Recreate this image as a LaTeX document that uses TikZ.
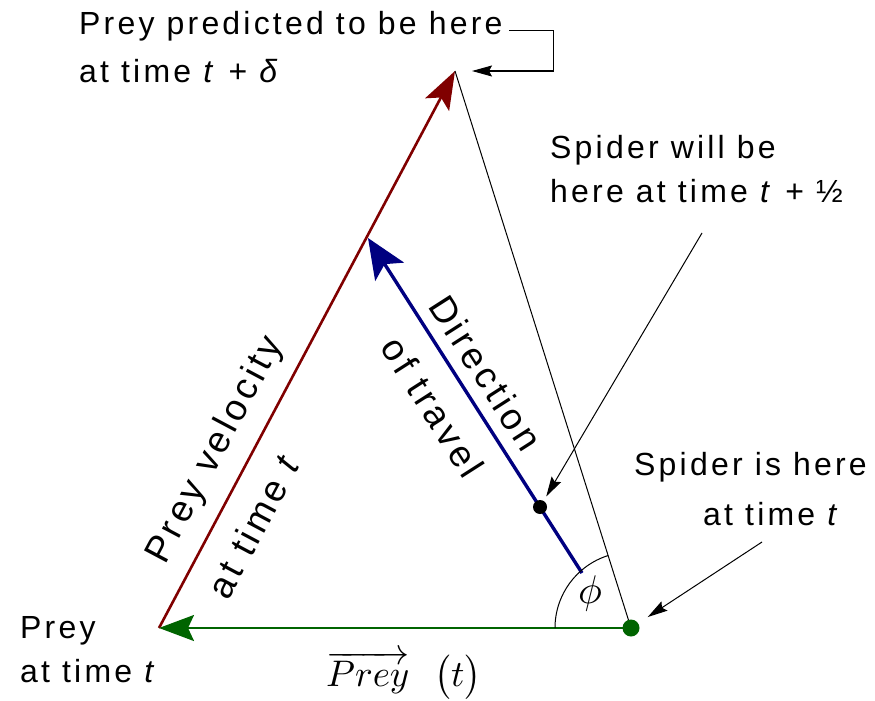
\documentclass[tikz,border=0pt]{standalone}
\usepackage{fontspec}
\setmainfont{Liberation Sans}
\newfontfamily\lab[LetterSpace=10]{Liberation Sans}
\usetikzlibrary{arrows.meta}
\definecolor{preyred}{RGB}{128,0,0}
\definecolor{spgreen}{RGB}{0,100,0}
\definecolor{dirblue}{RGB}{0,0,128}
\begin{document}
\begin{tikzpicture}[x=1pt,y=-1pt,
  txt/.style={font=\lab\fontsize{32}{38}\selectfont, inner sep=0pt, anchor=base west},
  rtxt/.style={font=\lab\fontsize{37}{44}\selectfont, inner sep=0pt},
  thin line/.style={line width=1pt, black},
  ann/.style={line width=1pt, black, -{Stealth[length=20pt,width=11pt,inset=3pt]}},
  spdot/.style={circle, fill=spgreen, inner sep=0pt, minimum size=17pt},
  bdot/.style={circle, fill=black, inner sep=0pt, minimum size=14pt}]
\useasboundingbox (0,0) rectangle (875,701);
% key points
\coordinate (prey) at (159,628);
\coordinate (apex) at (455,71);
\coordinate (S) at (631,628);
\coordinate (bstart) at (582,573);
\coordinate (btip) at (368,238);
% main vectors
\draw[preyred, line width=2.6pt, -{Stealth[length=38pt,width=27pt,inset=8pt]}] (prey) -- (apex);
\draw[thin line] (apex) -- (S);
\draw[spgreen, line width=2.2pt, -{Stealth[length=35pt,width=26pt,inset=6pt]}] (S) -- (prey);
\draw[dirblue, line width=3.4pt, -{Stealth[length=40pt,width=34pt,inset=9pt]}] (bstart) -- (btip);
% angle arc
\draw[thin line] (S) ++(-76,0) arc[start angle=180, end angle=252.5, radius=76];
\node[inner sep=0pt] (phi) at (590,593) {\scalebox{4}{$\phi$}};
% dots
\node[spdot] (spider) at (S) {};
\node[bdot] (dot) at (540,507) {};
% labels
\node[txt] (pred1) at (79,35) {Prey predicted to be here};
\node[txt] (pred2) at (79,82) {at time \textit{t} + \textit{δ}};
\node[txt] (will1) at (550,158) {Spider will be};
\node[txt] (will2) at (550,202) {here at time \textit{t} + ½};
\node[txt] (is1) at (634,475) {Spider is here};
\node[txt] (is2) at (703,525) {at time \textit{t}};
\node[txt] (p1) at (20,638) {Prey};
\node[txt] (p2) at (20,682) {at time \textit{t}};
\node[rtxt, rotate=62] (vel1) at (216,450) {Prey velocity};
\node[rtxt, rotate=62] (vel2) at (254,525) {at time \textit{t}};
\node[rtxt, rotate=-57.4] (dir1) at (486,373) {Direction};
\node[rtxt, rotate=-57.4] (dir2) at (433,407) {of travel};
\node[anchor=base west, inner sep=0pt] (preyt) at (326,686) {\scalebox{3.7}{$\overrightarrow{Prey}\mkern12mu\bigl(t\bigr)$}};
% annotation arrows
\coordinate (b0) at (509,31);
\coordinate (b1) at (553,31);
\coordinate (b2) at (553,71);
\coordinate (b3) at (472,71);
\draw[ann] (b0) -- (b1) -- (b2) -- (b3);
\coordinate (w0) at (702,233);
\draw[ann, shorten >=5pt] (w0) -- (dot);
\coordinate (i0) at (762,542);
\draw[ann, shorten >=20pt] (i0) -- (spider.center);
\end{tikzpicture}
\end{document}
